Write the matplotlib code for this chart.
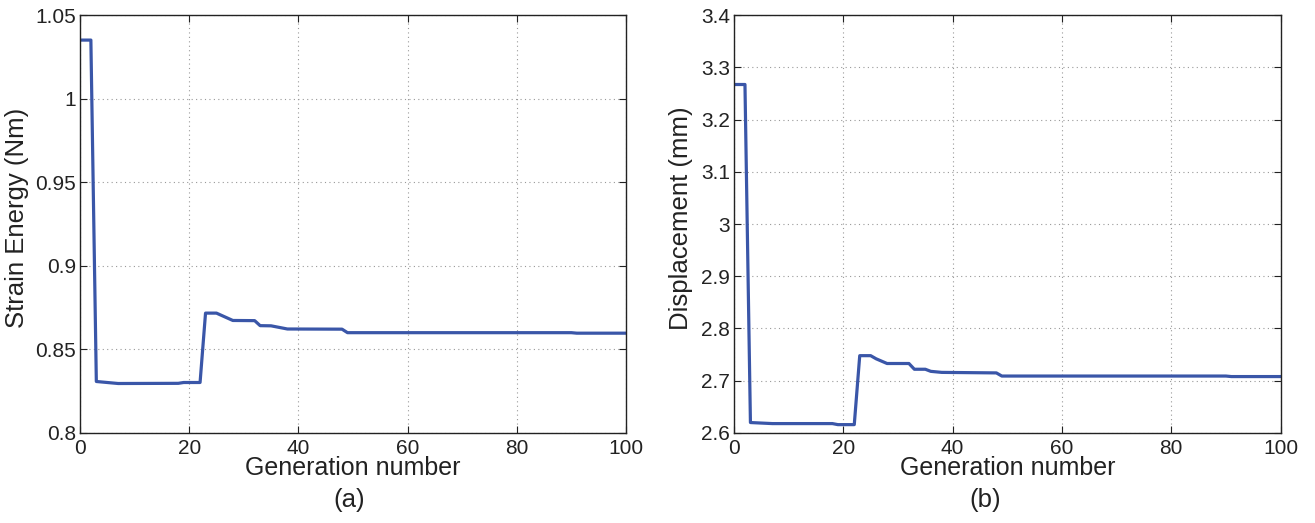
import matplotlib
matplotlib.use("Agg")
import matplotlib.pyplot as plt

# convergence history, vertices of the best-so-far curve
gen_energy = [0, 2, 3, 7, 18, 19, 22, 23, 25, 28, 32, 33, 35, 38, 48, 49, 90, 91, 100]
strain_energy = [1.035, 1.035, 0.8308, 0.8296, 0.8297, 0.8302, 0.8302, 0.8717, 0.8717,
                 0.8673, 0.8672, 0.8642, 0.8641, 0.8622, 0.8621, 0.8600, 0.8600, 0.8597, 0.8597]

gen_disp = [0, 2, 3, 7, 18, 19, 22, 23, 25, 26, 28, 32, 33, 35, 36, 38, 48, 49, 90, 91, 100]
displacement = [3.267, 3.267, 2.620, 2.618, 2.618, 2.616, 2.616, 2.748, 2.748, 2.742,
                2.733, 2.733, 2.722, 2.722, 2.718, 2.716, 2.715, 2.709, 2.709, 2.708, 2.708]

energy_ticks = [0.8, 0.85, 0.9, 0.95, 1.0, 1.05]
energy_ticklabels = ["0.8", "0.85", "0.9", "0.95", "1", "1.05"]
disp_ticks = [2.6, 2.7, 2.8, 2.9, 3.0, 3.1, 3.2, 3.3, 3.4]
disp_ticklabels = ["2.6", "2.7", "2.8", "2.9", "3", "3.1", "3.2", "3.3", "3.4"]
gen_ticks = [0, 20, 40, 60, 80, 100]

plt.rcParams["font.family"] = ["Liberation Sans", "DejaVu Sans"]
line_color = "#3a56a8"
ink = "#222222"

fig = plt.figure(figsize=(13.15, 5.23), dpi=100)
ax1 = fig.add_axes([0.0608, 0.1721, 0.4152, 0.7992])
ax2 = fig.add_axes([0.5582, 0.1721, 0.4156, 0.7992])


def style(ax, ylim, yticks, yticklabels, ylabel, label_x):
    ax.set_xlim(0, 100)
    ax.set_ylim(*ylim)
    ax.set_xticks(gen_ticks)
    ax.set_yticks(yticks)
    ax.set_yticklabels(yticklabels)
    ax.tick_params(direction="in", length=5, width=0.8, top=True, right=True,
                   labelsize=15, pad=3, color=ink, labelcolor=ink)
    ax.tick_params(axis="x", pad=4)
    ax.grid(True, linestyle=(0, (1, 3)), color="#999999", linewidth=0.8)
    for s in ax.spines.values():
        s.set_linewidth(1.0)
        s.set_color(ink)
    ax.set_xlabel("Generation number", fontsize=18, labelpad=-1, color=ink)
    ax.set_ylabel(ylabel, fontsize=18.5, color=ink)
    ax.yaxis.set_label_coords(label_x, 0.515)


ax1.plot(gen_energy, strain_energy, color=line_color, linewidth=2.3)
style(ax1, (0.8, 1.05), energy_ticks, energy_ticklabels, "Strain Energy (Nm)", -0.094)

ax2.plot(gen_disp, displacement, color=line_color, linewidth=2.3)
style(ax2, (2.6, 3.4), disp_ticks, disp_ticklabels, "Displacement (mm)", -0.075)

fig.text(0.2654, 0.044, "(a)", ha="center", va="center", fontsize=18.5, color=ink)
fig.text(0.749, 0.044, "(b)", ha="center", va="center", fontsize=18.5, color=ink)

fig.savefig("out.png", dpi=100)
